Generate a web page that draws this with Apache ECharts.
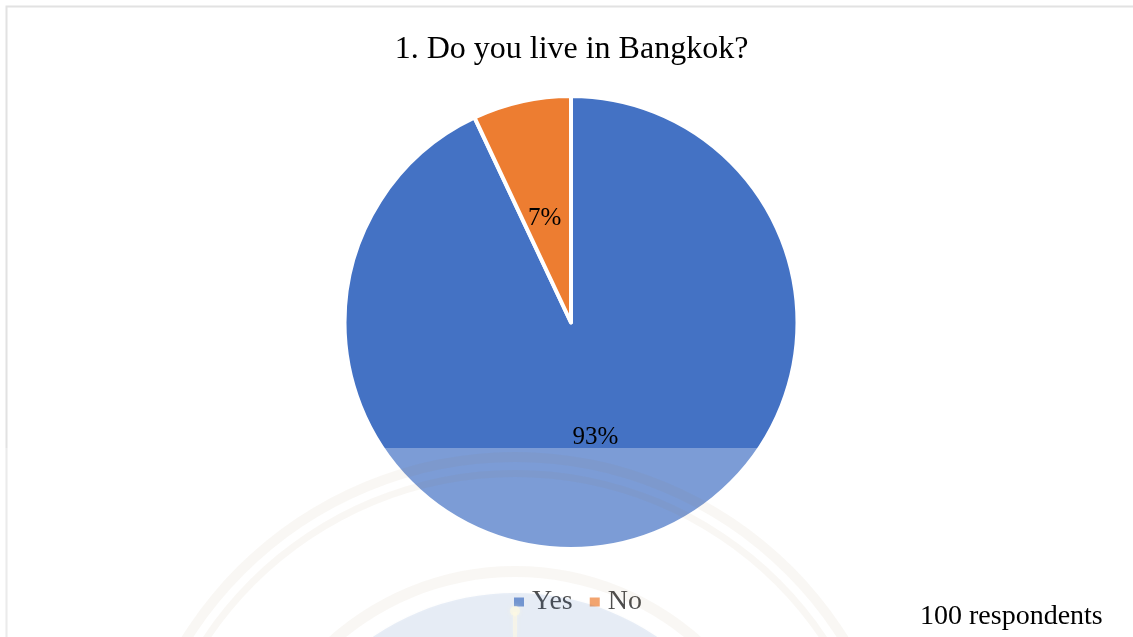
<!DOCTYPE html>
<html>
<head>
<meta charset="utf-8">
<style>
  html, body { margin: 0; padding: 0; background: #fff; }
  #chart { width: 1133px; height: 637px; }
</style>
<script src="https://cdn.jsdelivr.net/npm/echarts@6/dist/echarts.min.js"></script>
</head>
<body>
<div id="chart"></div>
<script>
const categories = ['Yes', 'No'];
const shares = [93, 7];
const sliceColors = ['#4472C4', '#ED7D31'];
const chartTitle = '1. Do you live in Bangkok?';
const sampleNote = '100 respondents';

const serif = '"Liberation Serif", "Times New Roman", serif';
const sealTint = 'rgba(150,125,60,0.06)';
const sealCenter = { cx: 515, cy: 845 };

// Concentric bands of the faint seal printed behind the lower page
function sealBand(r, r0, fill) {
  return {
    type: 'ring',
    silent: true,
    z: 11,
    shape: { cx: sealCenter.cx, cy: sealCenter.cy, r: r, r0: r0 },
    style: { fill: fill, shadowBlur: 6, shadowColor: fill }
  };
}

const chart = echarts.init(document.getElementById('chart'));
chart.setOption({
  animation: false,
  backgroundColor: '#fff',
  title: [
    {
      text: chartTitle,
      left: 566.5,
      top: 29,
      textAlign: 'center',
      textStyle: { fontFamily: serif, fontSize: 32, fontWeight: 'normal', color: '#000' }
    },
    {
      text: sampleNote,
      left: 920,
      top: 603,
      z: 30,
      padding: 0,
      textStyle: { fontFamily: serif, fontSize: 28, fontWeight: 'normal', color: '#000' }
    }
  ],
  legend: {
    data: categories,
    left: 512,
    top: 588,
    padding: 0,
    itemWidth: 12,
    itemHeight: 11,
    itemGap: 15,
    icon: 'rect',
    textStyle: { fontFamily: serif, fontSize: 28, color: '#000', padding: [0, 0, 0, 2] }
  },
  series: [{
    type: 'pie',
    center: [571, 322.5],
    radius: 226.5,
    startAngle: 90,
    clockwise: true,
    silent: true,
    itemStyle: { borderColor: '#fff', borderWidth: 4 },
    label: {
      position: 'inside',
      formatter: '{c}%',
      fontFamily: serif,
      fontSize: 25,
      color: '#000'
    },
    labelLine: { show: false },
    data: categories.map((name, i) => ({
      name: name,
      value: shares[i],
      itemStyle: { color: sliceColors[i] },
      // the narrow slice sits its label a little lower, toward the wider part of the pie
      label: name === 'No' ? { offset: [-1, 9] } : { offset: [-1, 1] }
    }))
  }],
  graphic: {
    elements: [
      // Page frame
      {
        type: 'polyline',
        silent: true,
        z: 1,
        shape: { points: [[6.5, 637], [6.5, 6.5], [1133, 6.5]] },
        style: { fill: null, stroke: '#e2e2e2', lineWidth: 2 }
      },
      // Translucent sheet washing out everything below the fold
      {
        type: 'rect',
        silent: true,
        z: 10,
        shape: { x: 0, y: 448, width: 1133, height: 189 },
        style: { fill: 'rgba(255,255,255,0.3)' }
      },
      sealBand(393, 383, sealTint),
      sealBand(375, 368, sealTint),
      sealBand(279, 268, sealTint),
      sealBand(252, 0, 'rgba(50,100,170,0.11)'),
      // Spire at the top of the seal's inner disc
      {
        type: 'rect',
        silent: true,
        z: 11,
        shape: { x: 513, y: 612, width: 4, height: 25 },
        style: { fill: 'rgba(255,250,225,0.5)', shadowBlur: 4, shadowColor: 'rgba(255,250,225,0.6)' }
      },
      {
        type: 'circle',
        silent: true,
        z: 11,
        shape: { cx: 515, cy: 611, r: 5 },
        style: { fill: 'rgba(255,250,225,0.6)', shadowBlur: 5, shadowColor: 'rgba(255,250,225,0.7)' }
      }
    ]
  }
});
</script>
</body>
</html>
